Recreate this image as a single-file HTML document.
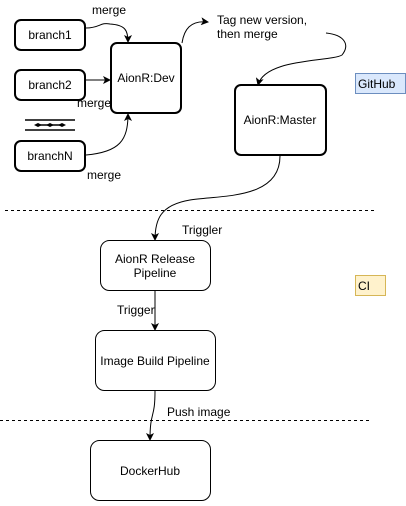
<!DOCTYPE html>
<html><head><style>
body{margin:0;background:#fff}
svg text{font-family:"Liberation Sans",sans-serif;font-size:12px;fill:#000}
</style></head><body>
<svg width="406" height="501" xmlns="http://www.w3.org/2000/svg">
<defs><marker id="a" markerWidth="8" markerHeight="8" refX="7" refY="4" orient="auto" markerUnits="userSpaceOnUse"><path d="M0,0 L8,4 L0,8 L2,4z" fill="#000"/></marker></defs>
<g fill="#fff" stroke="#000" stroke-width="2">
<rect x="15" y="20" width="70" height="30" rx="6"/>
<rect x="15" y="70" width="70" height="30" rx="6"/>
<rect x="15" y="141" width="70" height="30" rx="6"/>
<rect x="111" y="43" width="70" height="70" rx="6"/>
<rect x="235" y="85" width="91" height="70" rx="6"/>
</g>
<g fill="#fff" stroke="#000" stroke-width="1">
<rect x="100.5" y="240.5" width="110" height="50" rx="9"/>
<rect x="95.5" y="330.5" width="120" height="60" rx="9"/>
<rect x="90.5" y="440.5" width="120" height="60" rx="9"/>
</g>
<rect x="355.5" y="73.5" width="50" height="20" fill="#dae8fc" stroke="#6c8ebf"/>
<rect x="355.5" y="275.5" width="30" height="20" fill="#fff2cc" stroke="#d6b656"/>
<g stroke="#000" stroke-width="1.5"><line x1="25" y1="120" x2="75" y2="120"/><line x1="25" y1="130" x2="75" y2="130"/><line x1="37" y1="125" x2="63" y2="125"/></g>
<g fill="#000"><path d="M34,125 L38,123 L42,125 L38,127z"/><path d="M46,125 L50,123 L54,125 L50,127z"/><path d="M58,125 L62,123 L66,125 L62,127z"/></g>
<g fill="none" stroke="#000" stroke-width="1">
<path d="M86,28 C100,28 100,22 110,24 C125,25 128,30 128,42" marker-end="url(#a)"/>
<path d="M86,80 L110,80" marker-end="url(#a)"/>
<path d="M86,155 C120,152 128,140 128,114" marker-end="url(#a)"/>
<path d="M182,43 C184,30 190,20 208,22" marker-end="url(#a)"/>
<path d="M326,33 C345,35 350,45 342,55 C330,62 265,58 258,85" marker-end="url(#a)"/>
<path d="M280,156 C280,200 220,195 190,200 C160,205 155,220 155,240" marker-end="url(#a)"/>
<path d="M155,291 L155,330" marker-end="url(#a)"/>
<path d="M155,391 C155,420 150,410 150,440" marker-end="url(#a)"/>
<path d="M5,210.5 L375,210.5" stroke-dasharray="3 3"/>
<path d="M0,420.5 L370,420.5" stroke-dasharray="3 3"/>
</g>
<text x="50" y="39" text-anchor="middle">branch1</text>
<text x="50" y="89" text-anchor="middle">branch2</text>
<text x="50" y="160" text-anchor="middle">branchN</text>
<text x="146" y="82" text-anchor="middle">AionR:Dev</text>
<text x="280" y="124" text-anchor="middle">AionR:Master</text>
<text x="92" y="14">merge</text>
<text x="77" y="107">merge</text>
<text x="87" y="179">merge</text>
<text x="217" y="24">Tag new version,</text>
<text x="217" y="38">then merge</text>
<text x="358" y="88">GitHub</text>
<text x="358" y="290">CI</text>
<text x="155" y="263" text-anchor="middle">AionR Release</text>
<text x="155" y="277" text-anchor="middle">Pipeline</text>
<text x="155" y="365" text-anchor="middle">Image Build Pipeline</text>
<text x="150" y="475" text-anchor="middle">DockerHub</text>
<text x="182" y="234">Triggler</text>
<text x="117" y="314">Trigger</text>
<text x="167" y="416">Push image</text>
</svg>
</body></html>
